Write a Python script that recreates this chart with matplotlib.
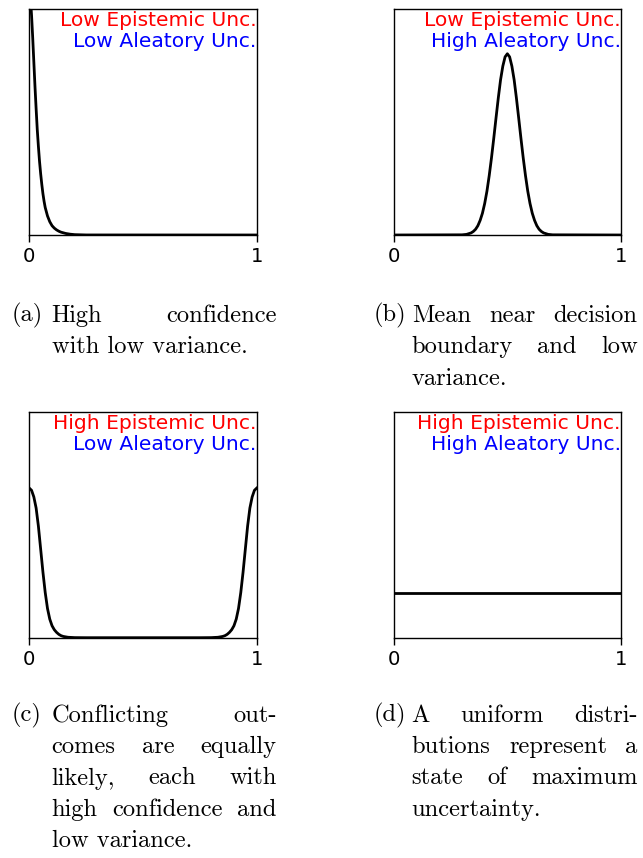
import matplotlib
matplotlib.use('Agg')
import matplotlib.pyplot as plt

# (a) high confidence, low variance: mass piled up at 0
x_a = [0.0, 0.005, 0.01, 0.015, 0.02, 0.025, 0.03, 0.035, 0.04, 0.045, 0.05, 0.055,
       0.06, 0.065, 0.07, 0.08, 0.09, 0.10, 0.11, 0.12, 0.13, 0.14, 0.16, 0.18,
       0.2, 0.25, 1.0]
y_a = [6.5, 5.35, 4.95, 4.45, 3.90, 3.35, 2.85, 2.38, 2.0, 1.66, 1.38, 1.14,
       0.93, 0.76, 0.62, 0.43, 0.30, 0.21, 0.155, 0.115, 0.085, 0.063, 0.035, 0.018,
       0.008, 0.001, 0.0]

# (b) mean near the decision boundary
x_b = [0.0, 0.3, 0.32, 0.34, 0.35, 0.36, 0.37, 0.38, 0.39, 0.40, 0.41, 0.42, 0.43,
       0.44, 0.45, 0.46, 0.47, 0.48, 0.49, 0.5, 0.51, 0.52, 0.53, 0.54, 0.55, 0.56,
       0.57, 0.58, 0.59, 0.60, 0.61, 0.62, 0.63, 0.64, 0.65, 0.66, 0.68, 0.7, 1.0]
y_b = [0.0, 0.004, 0.014, 0.047, 0.08, 0.13, 0.21, 0.33, 0.49, 0.71, 0.99, 1.34, 1.74,
       2.18, 2.64, 3.09, 3.50, 3.81, 4.02, 4.09, 4.02, 3.81, 3.50, 3.09, 2.64, 2.18,
       1.74, 1.34, 0.99, 0.71, 0.49, 0.33, 0.21, 0.13, 0.08, 0.047, 0.014, 0.004, 0.0]

# (c) two conflicting outcomes
x_c = [0.0, 0.01, 0.02, 0.03, 0.04, 0.05, 0.06, 0.07, 0.08, 0.09, 0.10, 0.11, 0.12,
       0.13, 0.14, 0.15, 0.17, 0.2, 0.25,
       0.75, 0.8, 0.83, 0.85, 0.86, 0.87, 0.88, 0.89, 0.90, 0.91, 0.92, 0.93, 0.94,
       0.95, 0.96, 0.97, 0.98, 0.99, 1.0]
y_c = [3.38, 3.33, 3.18, 2.93, 2.52, 2.0, 1.48, 1.02, 0.66, 0.42, 0.27, 0.18, 0.12,
       0.075, 0.045, 0.028, 0.01, 0.002, 0.0,
       0.0, 0.002, 0.01, 0.028, 0.045, 0.075, 0.12, 0.18, 0.27, 0.42, 0.66, 1.02, 1.48,
       2.0, 2.52, 2.93, 3.18, 3.33, 3.38]

# (d) uniform
x_d = [0.0, 1.0]
y_d = [1.0, 1.0]

curves = [(x_a, y_a), (x_b, y_b), (x_c, y_c), (x_d, y_d)]
epistemic = ['Low Epistemic Unc.', 'Low Epistemic Unc.', 'High Epistemic Unc.', 'High Epistemic Unc.']
aleatory = ['Low Aleatory Unc.', 'High Aleatory Unc.', 'Low Aleatory Unc.', 'High Aleatory Unc.']
labels = ['(a)', '(b)', '(c)', '(d)']
captions = [
    ['High confidence', 'with low variance.'],
    ['Mean near decision', 'boundary and low', 'variance.'],
    ['Conflicting out-', 'comes are equally', 'likely, each with',
     'high confidence and', 'low variance.'],
    ['A uniform distri-', 'butions represent a', 'state of maximum', 'uncertainty.'],
]

W, H = 643, 858
fig = plt.figure(figsize=(W / 100, H / 100), dpi=100)

# axes boxes in pixels: left, top, right, bottom
boxes = [(29.3, 9, 256.7, 235), (394, 9, 620.7, 235),
         (29.3, 412, 256.7, 637.7), (394, 412, 620.7, 637.7)]

for i, (xs, ys) in enumerate(curves):
    l, t, r, b = boxes[i]
    ax = fig.add_axes([l / W, 1 - b / H, (r - l) / W, (b - t) / H])
    ax.plot(xs, ys, color='black', lw=2.0)
    ax.set_xlim(0, 1)
    ax.set_ylim(0, 5.1)
    ax.set_xticks([0, 1])
    ax.set_xticklabels(['0', '1'])
    ax.set_yticks([])
    ax.tick_params(axis='x', labelsize=14.2, length=5, width=1.0, pad=4)
    for s in ax.spines.values():
        s.set_linewidth(1.0)
    ax.text(1.0, 0.924, epistemic[i], color='red', fontsize=14.6,
            ha='right', va='baseline', transform=ax.transAxes)
    ax.text(1.0, 0.832, aleatory[i], color='blue', fontsize=14.6,
            ha='right', va='baseline', transform=ax.transAxes)

renderer = fig.canvas.get_renderer()
cap_font = dict(family='cmr10', size=17.6)

def put(x, y, s):
    return fig.text(x / W, 1 - y / H, s, ha='left', va='baseline', **cap_font)

# caption columns: label x, body left, body right, first baseline
cols = [(11.7, 51.7, 276.5, 321.7), (373.3, 411.7, 637.5, 321.7),
        (11.7, 51.7, 276.5, 721.7), (373.3, 411.7, 637.5, 721.7)]
line_gap = 31.4

for i, lines in enumerate(captions):
    lx, x0, x1, y0 = cols[i]
    put(lx, y0, labels[i])
    for k, line in enumerate(lines):
        y = y0 + k * line_gap
        words = line.split()
        if k == len(lines) - 1 or len(words) == 1:
            put(x0, y, line)
            continue
        texts = [put(x0, y, w) for w in words]
        widths = [t.get_window_extent(renderer).width for t in texts]
        gap = (x1 - x0 - sum(widths)) / (len(words) - 1)
        x = x0
        for t, w in zip(texts, widths):
            t.set_x(x / W)
            x += w + gap

fig.savefig('out.png', dpi=100)
